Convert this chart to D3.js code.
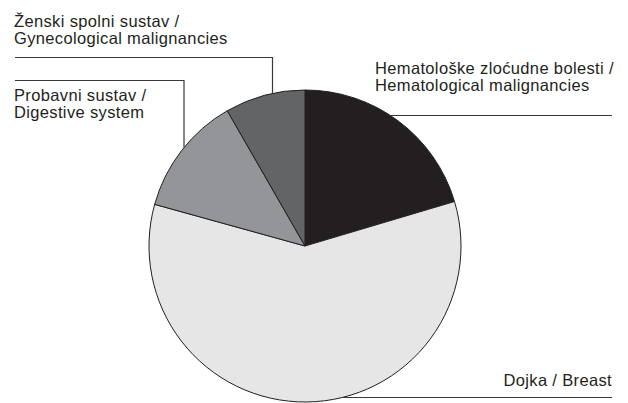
<!DOCTYPE html>
<html>
<head>
<meta charset="utf-8">
<script src="https://cdn.jsdelivr.net/npm/d3@7"></script>
<style>
  html, body { margin: 0; padding: 0; background: #fff; }
  svg { display: block; }
  text { font-family: "Liberation Sans", Arial, Helvetica, sans-serif; font-size: 16.5px; letter-spacing: 0.35px; fill: #231f20; }
</style>
</head>
<body>
<svg id="chart" width="628" height="403"></svg>
<script>
// Share of patients by tumour site (percent), clockwise from 12 o'clock
const categories = ["hema", "breast", "digestive", "gyn"];
const shares = [20.4, 58.9, 12.4, 8.3];
const labelLines = [
  ["Hematološke zloćudne bolesti /", "Hematological malignancies"],
  ["Dojka / Breast"],
  ["Probavni sustav /", "Digestive system"],
  ["Ženski spolni sustav /", "Gynecological malignancies"]
];
const fills = ["#231f20", "#e6e6e7", "#939598", "#636466"];

const width = 628, height = 403;
const cx = 305, cy = 246, R = 156;

const svg = d3.select("#chart");
const g = svg.append("g").attr("transform", `translate(${cx},${cy})`);

const pie = d3.pie().sort(null).value(d => d.v);
const arc = d3.arc().innerRadius(0).outerRadius(R);
const data = categories.map((c, i) => ({ c, v: shares[i] }));
const color = d3.scaleOrdinal().domain(categories).range(fills);

g.selectAll("path.slice")
  .data(pie(data))
  .join("path")
  .attr("class", "slice")
  .attr("d", arc)
  .attr("fill", d => color(d.data.c))
  .attr("stroke", "#231f20")
  .attr("stroke-width", 1);

// Point on the rim for a given x (top or bottom half) or y (left or right half)
const rimYAtX = (x, sign) => cy + sign * Math.sqrt(R * R - (x - cx) ** 2);
const rimXAtY = (y, sign) => cx + sign * Math.sqrt(R * R - (y - cy) ** 2);

// Label layout: text anchor, first baseline, leader line route
const layout = {
  hema: { x: 375, y: 74, anchor: "start",
          line: [[612, 115.5], [rimXAtY(115.5, 1), 115.5]] },
  breast: { x: 612, y: 386, anchor: "end",
          line: [[612, 397.5], [rimXAtY(397.5, 1), 397.5]] },
  digestive: { x: 14, y: 101, anchor: "start",
          line: [[15, 80.5], [184, 80.5], [184, rimYAtX(184, -1)]] },
  gyn: { x: 14, y: 27, anchor: "start",
          line: [[15, 57.5], [272.5, 57.5], [272.5, rimYAtX(272.5, -1)]] }
};

const lineGen = d3.line();
const labels = svg.append("g");
categories.forEach((c, i) => {
  const L = layout[c];
  labels.append("path")
    .attr("d", lineGen(L.line))
    .attr("fill", "none")
    .attr("stroke", "#3a3a3a")
    .attr("stroke-width", 1.2);
  const t = labels.append("text")
    .attr("x", L.x).attr("y", L.y)
    .attr("text-anchor", L.anchor);
  labelLines[i].forEach((s, k) => {
    t.append("tspan").attr("x", L.x).attr("dy", k === 0 ? 0 : 17).text(s);
  });
});
</script>
</body>
</html>
